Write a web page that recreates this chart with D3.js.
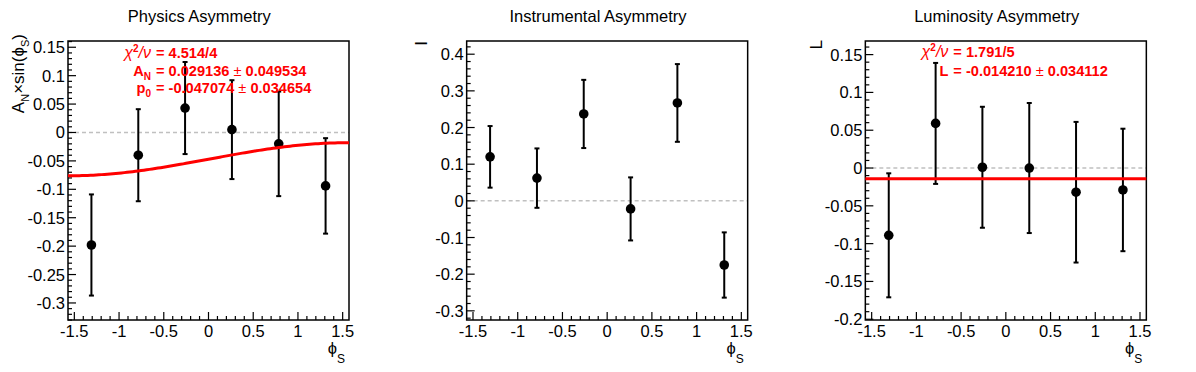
<!DOCTYPE html>
<html lang="en">
<head>
<meta charset="UTF-8">
<title>Asymmetries vs phi_S</title>
<script src="https://cdn.jsdelivr.net/npm/d3@7/dist/d3.min.js"></script>
<style>
  body { margin: 0; background: #fff; font-family: "Liberation Sans", Arial, sans-serif; }
  .tick-label { font-size: 16.5px; fill: #000; }
  .title { font-size: 16.5px; text-anchor: middle; }
  .fit-text { font-size: 14.6px; font-weight: bold; fill: #ff0000; }
</style>
</head>
<body>
<script>
// bin centres of phi_S (6 bins over -pi/2 .. pi/2)
const binCenters = [-1.309, -0.785, -0.262, 0.262, 0.785, 1.309];

const physVals = [-0.198, -0.040, 0.043, 0.005, -0.020, -0.094];
const physErrs = [0.089, 0.081, 0.081, 0.087, 0.092, 0.084];

const instVals = [0.120, 0.062, 0.237, -0.022, 0.267, -0.175];
const instErrs = [0.084, 0.081, 0.093, 0.086, 0.106, 0.089];

const lumiVals = [-0.089, 0.059, 0.001, 0.000, -0.032, -0.029];
const lumiErrs = [0.082, 0.080, 0.080, 0.086, 0.093, 0.081];

// fit results shown on the plots
const physFit = { AN: 0.029136, p0: -0.047074 };
const lumiFit = { L: -0.014210 };

const xTicks = [-1.5, -1, -0.5, 0, 0.5, 1, 1.5];

const W = 1196, H = 372;
const padW = W / 3;
const frame = { left: 68, width: 281, top: 41, bottom: 320 };
const PHI = "\u03d5";

const svg = d3.select("body").append("svg")
  .attr("width", W).attr("height", H);

const panels = [
  { title: "Physics Asymmetry", vals: physVals, errs: physErrs,
    yDomain: [-0.33, 0.161], yMajor: 0.05, yMinor: 0.01, labelX: 24, labelTop: 34,
    ylabel: [["A", 0], ["N", 1], ["\u00d7sin(" + PHI, 0], ["S", 1], [")", 0]] },
  { title: "Instrumental Asymmetry", vals: instVals, errs: instErrs,
    yDomain: [-0.325, 0.436], yMajor: 0.1, yMinor: 0.02, labelX: 28, labelTop: 41,
    ylabel: [["I", 0]] },
  { title: "Luminosity Asymmetry", vals: lumiVals, errs: lumiErrs,
    yDomain: [-0.201, 0.168], yMajor: 0.05, yMinor: 0.01, labelX: 25, labelTop: 40,
    ylabel: [["L", 0]] }
];

function tickRange(lo, hi, step) {
  const out = [];
  for (let k = Math.ceil(lo / step - 1e-9); k * step <= hi + 1e-9; k++) out.push(+(k * step).toFixed(6));
  return out;
}

panels.forEach((p, i) => {
  const g = svg.append("g").attr("transform", `translate(${i * padW},0)`);
  const x = d3.scaleLinear().domain([-Math.PI / 2, Math.PI / 2])
    .range([frame.left, frame.left + frame.width]);
  const y = d3.scaleLinear().domain(p.yDomain).range([frame.bottom, frame.top]);

  g.append("text").attr("class", "title")
    .attr("x", padW / 2).attr("y", 22).text(p.title);

  // zero line
  g.append("line")
    .attr("x1", x.range()[0]).attr("x2", x.range()[1])
    .attr("y1", y(0)).attr("y2", y(0))
    .attr("stroke", "#c0c0c0").attr("stroke-width", 1.5)
    .attr("stroke-dasharray", "4,3");

  // frame
  g.append("rect")
    .attr("x", frame.left).attr("y", frame.top)
    .attr("width", frame.width).attr("height", frame.bottom - frame.top)
    .attr("fill", "none").attr("stroke", "#000").attr("stroke-width", 1.5);

  // x ticks
  const xd = x.domain();
  tickRange(xd[0], xd[1], 0.1).forEach(v => {
    const major = Math.abs(v / 0.5 - Math.round(v / 0.5)) < 1e-6;
    g.append("line").attr("x1", x(v)).attr("x2", x(v))
      .attr("y1", frame.bottom).attr("y2", frame.bottom - (major ? 8 : 4))
      .attr("stroke", "#000").attr("stroke-width", 1.2);
  });
  xTicks.forEach(v => {
    g.append("text").attr("class", "tick-label")
      .attr("x", x(v)).attr("y", 337).attr("text-anchor", "middle")
      .text(String(v));
  });

  // y ticks
  const yd = p.yDomain;
  tickRange(yd[0], yd[1], p.yMinor).forEach(v => {
    const major = Math.abs(v / p.yMajor - Math.round(v / p.yMajor)) < 1e-6;
    g.append("line").attr("x1", frame.left).attr("x2", frame.left + (major ? 8 : 4))
      .attr("y1", y(v)).attr("y2", y(v))
      .attr("stroke", "#000").attr("stroke-width", 1.2);
  });
  tickRange(yd[0], yd[1], p.yMajor).forEach(v => {
    g.append("text").attr("class", "tick-label")
      .attr("x", frame.left - 3).attr("y", y(v) + 6).attr("text-anchor", "end")
      .text(String(+v.toFixed(3)));
  });

  // x label phi_S
  const xl = g.append("text").attr("class", "tick-label")
    .attr("x", frame.left + frame.width - 4).attr("y", 354).attr("text-anchor", "end");
  xl.append("tspan").text(PHI);
  xl.append("tspan").attr("dy", 9).attr("font-size", 12).text("S");

  // y label
  const yl = g.append("text").attr("class", "tick-label")
    .attr("transform", `translate(${p.labelX},${p.labelTop}) rotate(-90)`)
    .attr("text-anchor", "end").attr("font-size", 17);
  let prevSub = 0;
  p.ylabel.forEach(([t, sub]) => {
    yl.append("tspan").attr("dy", (sub - prevSub) * 5)
      .attr("font-size", sub ? 11 : 17).text(t);
    prevSub = sub;
  });

  // points with error bars
  const pts = binCenters.map((c, k) => ({ x: c, v: p.vals[k], e: p.errs[k] }));
  const eg = g.append("g");
  pts.forEach(d => {
    const px = x(d.x);
    eg.append("line").attr("x1", px).attr("x2", px)
      .attr("y1", y(d.v - d.e)).attr("y2", y(d.v + d.e))
      .attr("stroke", "#000").attr("stroke-width", 2);
    [d.v - d.e, d.v + d.e].forEach(yy => {
      eg.append("line").attr("x1", px - 2.5).attr("x2", px + 2.5)
        .attr("y1", y(yy)).attr("y2", y(yy))
        .attr("stroke", "#000").attr("stroke-width", 2);
    });
  });

  // fits
  if (i === 0) {
    const xs = d3.range(0, 101).map(k => xd[0] + (xd[1] - xd[0]) * k / 100);
    g.append("path")
      .datum(xs)
      .attr("d", d3.line().x(t => x(t)).y(t => y(physFit.AN * Math.sin(t) + physFit.p0)))
      .attr("fill", "none").attr("stroke", "#ff0000").attr("stroke-width", 3);
  }
  if (i === 2) {
    g.append("line").attr("x1", x(xd[0])).attr("x2", x(xd[1]))
      .attr("y1", y(lumiFit.L)).attr("y2", y(lumiFit.L))
      .attr("stroke", "#ff0000").attr("stroke-width", 3);
  }

  eg.selectAll("circle").data(pts).enter().append("circle")
    .attr("cx", d => x(d.x)).attr("cy", d => y(d.v)).attr("r", 4.8)
    .attr("fill", "#000");
});

// fit text
const eqX = 156;
function fitLine(pad, yb, nameParts, value, err) {
  const ox = pad * padW;
  const n = svg.append("text").attr("class", "fit-text")
    .attr("x", ox + eqX - 5).attr("y", yb).attr("text-anchor", "end");
  nameParts.forEach(([t, kind]) => {
    const s = n.append("tspan").text(t);
    if (kind === "g") s.attr("font-weight", "normal").attr("font-style", "italic").attr("font-size", 16);
    if (kind === "sup") s.attr("font-size", 10).attr("dy", -6);
    if (kind === "sub") s.attr("font-size", 10).attr("dy", 4);
    if (kind === "after") s.attr("dy", 6).attr("font-weight", "normal").attr("font-style", "italic").attr("font-size", 16);
  });
  const v = svg.append("text").attr("class", "fit-text")
    .attr("x", ox + eqX).attr("y", yb);
  v.append("tspan").text("= " + value);
  if (err) {
    v.append("tspan").attr("font-weight", "normal").text(" \u00b1 ");
    v.append("tspan").text(err);
  }
}
const chiParts = [["\u03c7", "g"], ["2", "sup"], ["/\u03bd", "after"]];
fitLine(0, 58, chiParts, "4.514/4");
fitLine(0, 75.5, [["A", ""], ["N", "sub"]], "0.029136", "0.049534");
fitLine(0, 93, [["p", ""], ["0", "sub"]], "-0.047074", "0.034654");
fitLine(2, 57, chiParts, "1.791/5");
fitLine(2, 76, [["L", ""]], "-0.014210", "0.034112");
</script>
</body>
</html>
